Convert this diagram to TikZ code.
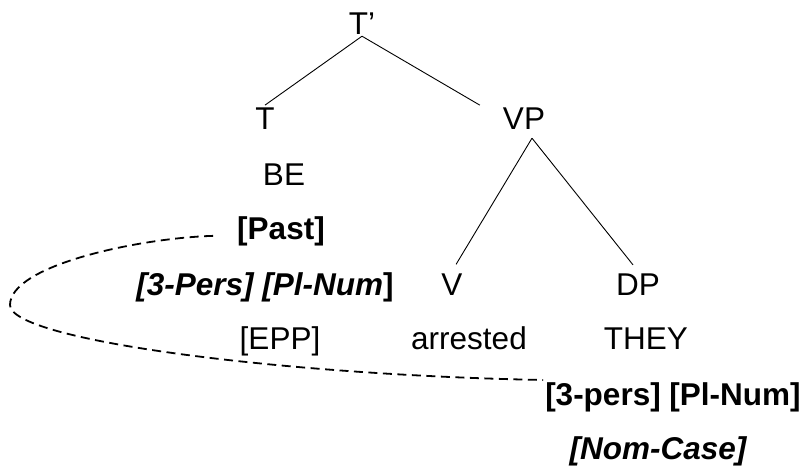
\documentclass[tikz,border=0pt]{standalone}
\usepackage{fontspec}
\setmainfont{Liberation Sans}
\usepackage{tikz}
\tikzstyle{word} = [font=\fontsize{31.5}{36}\selectfont, anchor=base, inner sep=2pt]
\tikzstyle{feat} = [font=\fontsize{31.5}{36}\selectfont\bfseries, anchor=base, inner sep=2pt]
\tikzstyle{branch} = [line width=0.9pt]
\tikzstyle{agree} = [line width=1.8pt, dash pattern=on 9pt off 5.5pt]

\begin{document}
\begin{tikzpicture}[x=1pt,y=-1pt]
  \useasboundingbox (0,0) rectangle (804,466);
  \draw (362, 34)node[word](Tbar){T'};
  \draw (265,129)node[word](T){T};
  \draw (524,129)node[word](VP){VP};
  \draw (284,185)node[word](BE){BE};
  \draw (281,239)node[feat](Past){[Past]};
  \draw (265,295)node[feat](phiT){{\itshape [3-Pers] [Pl-Num}]};
  \draw (452,295)node[word](V){V};
  \draw (638,295)node[word](DP){DP};
  \draw (280,349)node[word](EPP){[EPP]};
  \draw (469,349)node[word](arr){arrested};
  \draw (646,349)node[word](they){THEY};
  \draw (673,405)node[feat](phiDP){[3-pers] [Pl-Num]};
  \draw (658,459)node[feat](case){\itshape [Nom-Case]};
  \coordinate (bend) at (10,305);
  \draw[branch] (Tbar.south) -- (T.north);
  \draw[branch] (Tbar.south) -- ([xshift=-21pt]VP.north west);
  \draw[branch, shorten >=8pt] ([shift={(8,7)}]VP.south) -- (V.north);
  \draw[branch, shorten >=8pt] ([shift={(8,7)}]VP.south) -- (DP.north);
  \draw[agree] ([shift={(-22,5)}]Past.west) .. controls (140,238) and (10,265) .. (bend)
    .. controls (10,340) and (280,375) .. (phiDP.north west);
\end{tikzpicture}
\end{document}
